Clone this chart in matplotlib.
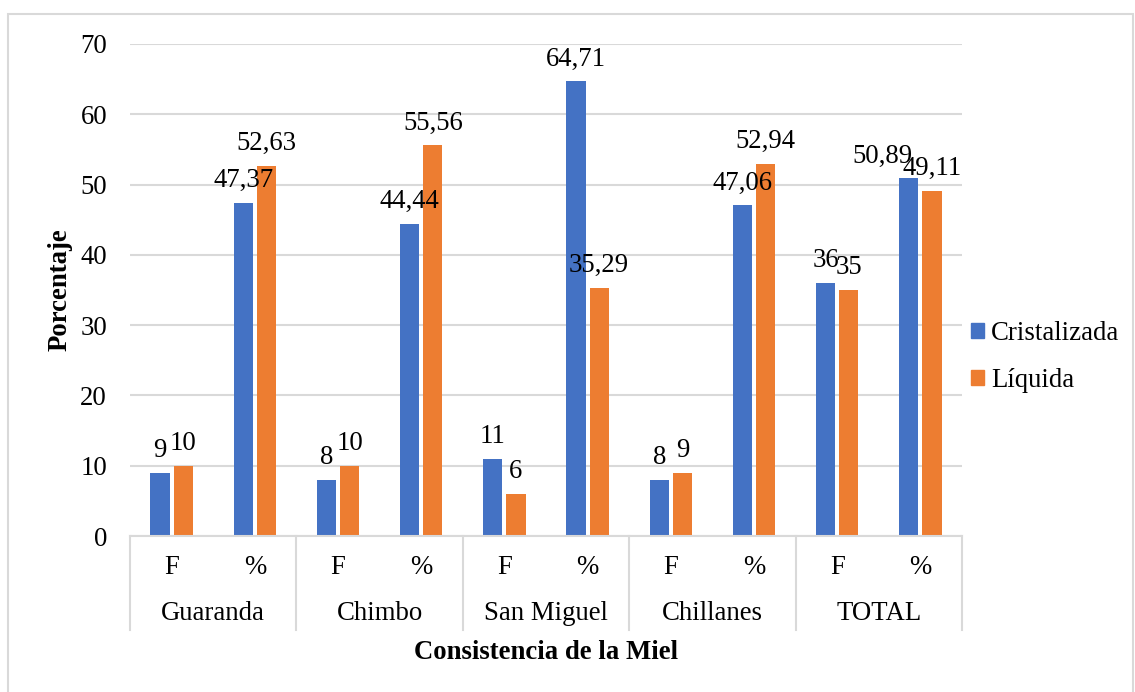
import numpy as np
import matplotlib
matplotlib.use('Agg')
import matplotlib.pyplot as plt
from matplotlib.patches import Rectangle, Patch
from matplotlib.lines import Line2D
import matplotlib.transforms as mtransforms

plt.rcParams['font.family'] = ['Liberation Serif', 'DejaVu Serif']

sitios = ["Guaranda", "Chimbo", "San Miguel", "Chillanes", "TOTAL"]
medidas = ["F", "%"]
cristalizada = [9, 47.37, 8, 44.44, 11, 64.71, 8, 47.06, 36, 50.89]
liquida = [10, 52.63, 10, 55.56, 6, 35.29, 9, 52.94, 35, 49.11]

azul = '#4472C4'
naranja = '#ED7D31'
gris = '#D9D9D9'
fs = 19.3


def etiqueta(v):
    if float(v).is_integer():
        return f"{int(v)}"
    return f"{v:.2f}".replace('.', ',')


fig = plt.figure(figsize=(11.35, 6.92), dpi=100)
fig.patches.append(Rectangle((8 / 1135, -0.01), 1125 / 1135, 1 - 14 / 692 + 0.01,
                             transform=fig.transFigure, fill=False,
                             edgecolor=gris, linewidth=1.5))
ax = fig.add_axes([130 / 1135, 1 - 536 / 692, 832 / 1135, 492 / 692])

x = np.arange(len(cristalizada))
ancho = 0.23
desp = 0.139
b1 = ax.bar(x - desp, cristalizada, ancho, color=azul, label="Cristalizada")
b2 = ax.bar(x + desp, liquida, ancho, color=naranja, label="Líquida")

# etiquetas de valor encima de cada barra
ajuste = {(0, 9): -26}
for serie, barras in enumerate([b1, b2]):
    for i, b in enumerate(barras):
        v = b.get_height()
        dx = ajuste.get((serie, i), 0)
        ax.annotate(etiqueta(v), (b.get_x() + b.get_width() / 2, v),
                    xytext=(dx * 0.72, 7), textcoords='offset points',
                    ha='center', va='bottom', fontsize=fs)

ax.set_xlim(-0.5, len(x) - 0.5)
ax.set_ylim(0, 70)
ax.set_yticks(range(0, 71, 10))
ax.tick_params(axis='y', length=0, pad=16.5, labelsize=fs)
ax.tick_params(axis='x', length=0, labelbottom=False)
ax.yaxis.grid(True, color=gris, linewidth=1.5)
ax.set_axisbelow(True)
for s in ['top', 'right', 'left']:
    ax.spines[s].set_visible(False)
ax.spines['bottom'].set_color(gris)
ax.spines['bottom'].set_linewidth(1.5)

# tabla de categorias bajo el eje
trans = mtransforms.blended_transform_factory(ax.transData, ax.transAxes)
for i in range(len(x)):
    ax.text(i, -0.065, medidas[i % 2], transform=trans, ha='center',
            va='center', fontsize=fs)
for g, nombre in enumerate(sitios):
    ax.text(2 * g + 0.5, -0.158, nombre, transform=trans, ha='center',
            va='center', fontsize=fs)
for g in range(len(sitios) + 1):
    ax.add_line(Line2D([2 * g - 0.5, 2 * g - 0.5], [0, -0.191], transform=trans,
                       color=gris, linewidth=1.5, clip_on=False))

ax.text(0.5, -0.236, "Consistencia de la Miel", transform=ax.transAxes,
        ha='center', va='center', fontsize=fs, fontweight='bold')
ax.set_ylabel("Porcentaje", fontsize=fs, fontweight='bold', labelpad=5.5)

fig.legend(handles=[Patch(color=azul, label="Cristalizada"),
                    Patch(color=naranja, label="Líquida")],
           loc='center left', bbox_to_anchor=(971 / 1135, 1 - 357 / 692),
           frameon=False, fontsize=fs, handlelength=0.5, handleheight=0.5,
           handletextpad=0.25, labelspacing=0.82, borderpad=0, borderaxespad=0)

fig.savefig('out.png', dpi=100)
